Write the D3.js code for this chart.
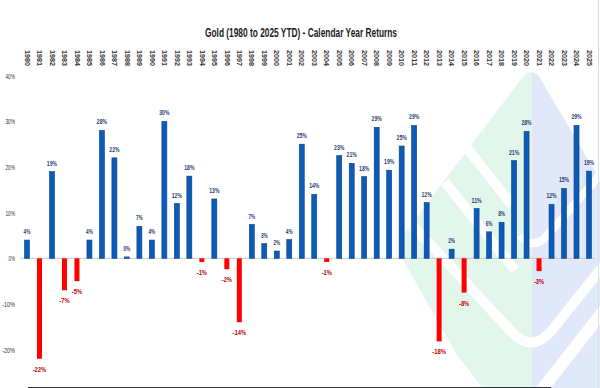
<!DOCTYPE html>
<html lang="en">
<head>
    <meta charset="UTF-8">
    <title>Gold Calendar Year Returns</title>
    <style>
        body { margin: 0; background: #fff; }
        svg { display: block; }
        text { font-family: "Liberation Sans", Arial, sans-serif; }
    </style>
</head>
<body>
    <div id="wrapper"></div>
    <script src="https://d3js.org/d3.v7.min.js"></script>
    <script>
        // years and yearly returns (%)
        const years = d3.range(1980, 2026).map(String)
        const returns = [4, -22, 19, -7, -5, 4, 28, 22, 0.3, 7, 4, 30, 12, 18, -0.8, 13, -2.4, -14,
            7.4, 3.2, 1.6, 4.1, 25, 14, -0.8, 22.5, 20.8, 17.9, 28.7, 19.3, 24.6, 29.1, 12.2,
            -18.2, 2, -7.5, 10.9, 5.8, 7.9, 21.4, 27.8, -2.8, 11.8, 15.3, 29.1, 19.1]
        const labels = ['4%', '-22%', '19%', '-7%', '-5%', '4%', '28%', '22%', '0%', '7%', '4%', '30%',
            '12%', '18%', '-1%', '13%', '-2%', '-14%', '7%', '3%', '2%', '4%', '25%', '14%', '-1%',
            '23%', '21%', '18%', '29%', '19%', '25%', '29%', '12%', '-18%', '2%', '-8%', '11%',
            '6%', '8%', '21%', '28%', '-3%', '12%', '15%', '29%', '19%']
        const yTicks = [-20, -10, 0, 10, 20, 30, 40]
        const title = 'Gold (1980 to 2025 YTD) - Calendar Year Returns'

        const width = 600, height = 388
        const svg = d3.select('#wrapper').append('svg')
            .attr('width', width).attr('height', height)

        // squeeze text so it looks like the narrow font of the original
        function narrow(sel, perChar) {
            sel.attr('textLength', function () { return this.textContent.length * perChar })
                .attr('lengthAdjust', 'spacingAndGlyphs')
        }

        // watermark logo in the lower right
        const defs = svg.append('defs')
        defs.append('clipPath').attr('id', 'logo')
            .append('path')
            .attr('d', 'M522,78 Q531,66 540,78 L612,200 L612,392 L478,392 L402,258 Q396,246 404,234 Z')
        const logo = svg.append('g').attr('clip-path', 'url(#logo)')
        logo.append('rect').attr('x', 380).attr('y', 60).attr('width', 152).attr('height', 340).attr('fill', '#e2f6ec')
        logo.append('rect').attr('x', 532).attr('y', 60).attr('width', 80).attr('height', 340).attr('fill', '#e0e8fa')
        logo.append('path')
            .attr('d', 'M462,142 L512,205 M445,182 L515,270 M412,225 L510,330 Q531,355 552,330 L612,255')
            .attr('fill', 'none').attr('stroke', '#fff').attr('stroke-width', 10)
        logo.append('path')
            .attr('d', 'M400,290 L478,392 M540,392 L612,300')
            .attr('fill', 'none').attr('stroke', '#fff').attr('stroke-width', 12)
        logo.append('path')
            .attr('d', 'M520,235 Q531,250 545,238 L600,175')
            .attr('fill', 'none').attr('stroke', '#fff').attr('stroke-width', 8)

        const x = d3.scaleBand()
            .domain(years)
            .range([20.75, 595.25])
            .paddingInner(0.6)
            .paddingOuter(0.3)

        const y = d3.scaleLinear()
            .domain([-20, 40])
            .range([349.6, 75.7])

        // title
        svg.append('text')
            .attr('x', 301).attr('y', 37)
            .attr('text-anchor', 'middle')
            .attr('font-size', '13px').attr('font-weight', 'bold')
            .attr('fill', '#1a1a1a')
            .attr('textLength', 192).attr('lengthAdjust', 'spacingAndGlyphs')
            .text(title)

        // year labels on top, rotated
        svg.append('g').selectAll('text')
            .data(years)
            .enter()
            .append('text')
            .attr('transform', d => `translate(${x(d) + x.bandwidth() / 2 - 2.3},50) rotate(90)`)
            .attr('font-size', '6.5px').attr('font-weight', 'bold')
            .attr('fill', '#333')
            .text(d => d)
            .call(narrow, 4)

        // y axis labels only
        const yAxis = d3.axisLeft(y).tickValues(yTicks).tickSize(0).tickPadding(0)
            .tickFormat(d => d + '%')
        const ya = svg.append('g').attr('transform', 'translate(15,0)').call(yAxis)
        ya.select('.domain').remove()
        ya.selectAll('text')
            .attr('font-family', '"Liberation Sans", Arial, sans-serif')
            .attr('font-size', '7.5px').attr('fill', '#333')
            .call(narrow, 3.2)

        // zero line
        svg.append('line')
            .attr('x1', 20).attr('x2', 595)
            .attr('y1', y(0)).attr('y2', y(0))
            .attr('stroke', '#c8c8c8').attr('stroke-width', 1)

        // bars
        svg.append('g').selectAll('rect')
            .data(returns)
            .enter()
            .append('rect')
            .attr('x', (d, i) => x(years[i]))
            .attr('y', d => y(Math.max(0, d)))
            .attr('width', x.bandwidth())
            .attr('height', d => Math.abs(y(d) - y(0)))
            .attr('fill', d => d < 0 ? '#ff0000' : '#0b5cb8')
            .attr('stroke', d => d < 0 ? 'none' : '#0a3f86')
            .attr('stroke-width', 0.6)

        // value labels
        svg.append('g').selectAll('text')
            .data(returns)
            .enter()
            .append('text')
            .attr('x', (d, i) => x(years[i]) + x.bandwidth() / 2)
            .attr('y', d => d < 0 ? y(d) + 13 : y(d) - 6)
            .attr('text-anchor', 'middle')
            .attr('font-size', '8px').attr('font-weight', 'bold')
            .attr('fill', d => d < 0 ? '#c00000' : '#1f3b6e')
            .text((d, i) => labels[i])
            .call(narrow, 3.4)

        // bottom frame line
        svg.append('line')
            .attr('x1', 28).attr('x2', 551).attr('y1', 387.5).attr('y2', 387.5)
            .attr('stroke', '#333').attr('stroke-width', 1.2)
        svg.append('line')
            .attr('x1', 598.5).attr('x2', 598.5).attr('y1', 0).attr('y2', 388)
            .attr('stroke', '#ddd').attr('stroke-width', 1)
    </script>
</body>
</html>
